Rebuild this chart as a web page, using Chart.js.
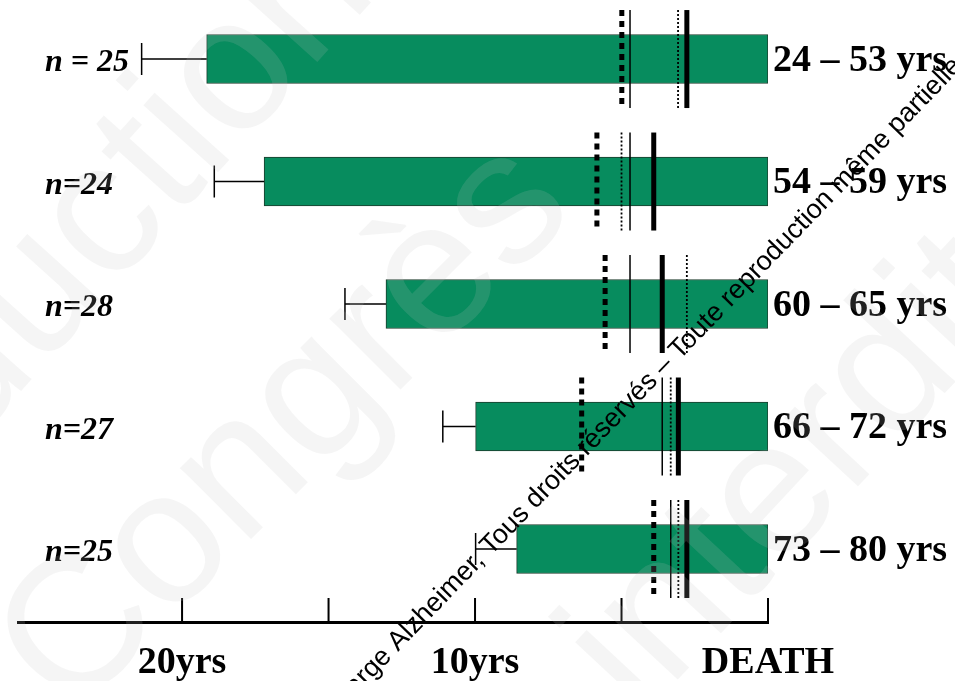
<!DOCTYPE html>
<html>
<head>
<meta charset="utf-8">
<script src="https://cdn.jsdelivr.net/npm/chart.js@4.4.0/dist/chart.umd.min.js"></script>
<style>
    html, body { margin: 0; padding: 0; background: #ffffff; }
    #zone { width: 955px; height: 681px; }
</style>
</head>
<body>
<div id="zone"><canvas id="grafico" width="955" height="681"></canvas></div>
<script>

// Données (années avant le décès)
const effectifs = ['n = 25', 'n=24', 'n=28', 'n=27', 'n=25'];
const tranchesAge = ['24 – 53 yrs', '54 – 59 yrs', '60 – 65 yrs', '66 – 72 yrs', '73 – 80 yrs'];
const debutBarre = [19.16, 17.2, 13.04, 9.98, 8.58];
const finMoustache = [21.38, 18.9, 14.44, 11.1, 9.98];

// lignes verticales de chaque rangée
const ligneTiretsEpaisse = [4.99, 5.84, 5.56, 6.36, 3.90];
const ligneFine = [4.71, 4.71, 4.71, 3.61, 3.32];
const lignePointillee = [3.07, 5.00, 2.77, 3.32, 3.06];
const ligneEpaisse = [2.77, 3.90, 3.61, 3.06, 2.77];

// axe
const graduations = [0, 5, 10, 15, 20];
const etiquettesAxe = { 0: 'DEATH', 10: '10yrs', 20: '20yrs' };

// le | marque le point d'ancrage du texte
const filigrane = 'Rencontres prise en charge |Alzheimer, Tous droits réservés – Toute reproduction même partielle interdite';

const serif = '"Liberation Serif", "Times New Roman", serif';
const sans = '"Liberation Sans", Arial, sans-serif';

// petit outil pour écrire un texte tourné à partir d'un point de la ligne de base
function texteTourne(ctx, texte, x, y, angle, police, couleur) {
    const morceaux = texte.split('|');
    ctx.save();
    ctx.font = police;
    ctx.fillStyle = couleur;
    ctx.textBaseline = 'alphabetic';
    ctx.textAlign = 'left';
    ctx.translate(x, y);
    ctx.rotate(angle * Math.PI / 180);
    const decalage = morceaux.length > 1 ? ctx.measureText(morceaux[0]).width : 0;
    ctx.fillText(morceaux.join(''), -decalage, 0);
    ctx.restore();
}

const pluginMarques = {
    id: 'marques',
    afterDatasetsDraw(chart) {
        const ctx = chart.ctx;
        const x = chart.scales.x;
        const y = chart.scales.y;

        debutBarre.forEach((debut, i) => {
            const yc = y.getPixelForValue(i);

            // moustache
            ctx.save();
            ctx.strokeStyle = '#000';
            ctx.lineWidth = 1.5;
            ctx.beginPath();
            ctx.moveTo(x.getPixelForValue(debut), yc);
            ctx.lineTo(x.getPixelForValue(finMoustache[i]), yc);
            ctx.moveTo(x.getPixelForValue(finMoustache[i]), yc - 16);
            ctx.lineTo(x.getPixelForValue(finMoustache[i]), yc + 16);
            ctx.stroke();
            ctx.restore();

            const traits = [
                { v: ligneTiretsEpaisse[i], w: 5, dash: [6, 5] },
                { v: ligneFine[i], w: 1.5, dash: [] },
                { v: lignePointillee[i], w: 1.8, dash: [2, 2] },
                { v: ligneEpaisse[i], w: 5, dash: [] }
            ];
            traits.forEach(t => {
                const xp = x.getPixelForValue(t.v);
                ctx.save();
                ctx.strokeStyle = '#000';
                ctx.lineWidth = t.w;
                ctx.setLineDash(t.dash);
                ctx.beginPath();
                ctx.moveTo(xp, yc - 49);
                ctx.lineTo(xp, yc + 49);
                ctx.stroke();
                ctx.restore();
            });
        });

        // graduations tournées vers le haut
        const yAxe = chart.chartArea.bottom;
        ctx.save();
        ctx.strokeStyle = '#000';
        ctx.lineWidth = 2;
        ctx.beginPath();
        graduations.forEach(g => {
            const xp = x.getPixelForValue(g);
            ctx.moveTo(xp, yAxe - 24);
            ctx.lineTo(xp, yAxe);
        });
        ctx.stroke();
        ctx.restore();
    },
    afterDraw(chart) {
        const ctx = chart.ctx;
        const y = chart.scales.y;
        const droite = chart.chartArea.right;

        ctx.save();
        ctx.fillStyle = '#000';
        ctx.textBaseline = 'middle';
        effectifs.forEach((e, i) => {
            const yc = y.getPixelForValue(i);
            ctx.font = 'italic bold 32px ' + serif;
            ctx.textAlign = 'left';
            ctx.fillText(e, 45, yc + 4);
            ctx.font = 'bold 38px ' + serif;
            ctx.fillText(tranchesAge[i], droite + 5, yc + 2);
        });
        ctx.restore();

        // filigrane clair
        const gris = 'rgba(190,190,190,0.16)';
        texteTourne(ctx, 'Reprod|uction', 40, 370, -48, '190px ' + sans, gris);
        texteTourne(ctx, 'Congrès', 70, 720, -45, '190px ' + sans, gris);
        texteTourne(ctx, 'interdite', 640, 720, -47, '190px ' + sans, gris);

        // filigrane noir
        texteTourne(ctx, filigrane, 398, 652, -46, '27px ' + sans, '#000');
    }
};

const donneesBarres = debutBarre.map((d, i) => ({ x: [d, 0], y: i }));

new Chart(document.getElementById('grafico'), {
    type: 'bar',
    data: {
        datasets: [{
            data: donneesBarres,
            backgroundColor: '#078c5e',
            borderColor: '#1d3b2c',
            borderWidth: 1,
            borderSkipped: false,
            barThickness: 49
        }]
    },
    options: {
        indexAxis: 'y',
        responsive: false,
        animation: false,
        devicePixelRatio: 1,
        layout: { padding: { left: 18, right: 187, top: 0, bottom: 0 } },
        plugins: { legend: { display: false }, tooltip: { enabled: false } },
        scales: {
            x: {
                type: 'linear',
                min: 0,
                max: 25.6,
                reverse: true,
                offset: false,
                afterBuildTicks: (axe) => { axe.ticks = graduations.map(v => ({ value: v })); },
                afterFit: (axe) => { axe.height = 59; },
                grid: { display: false, drawTicks: false, offset: false },
                border: { display: true, width: 3, color: '#000' },
                ticks: {
                    callback: (v) => etiquettesAxe[v] || '',
                    autoSkip: false,
                    maxRotation: 0,
                    padding: 22,
                    color: '#000',
                    font: { family: serif, size: 38, weight: 'bold', lineHeight: 1 }
                }
            },
            y: {
                type: 'linear',
                display: false,
                offset: false,
                grid: { offset: false },
                min: -0.482,
                max: 4.596,
                reverse: true
            }
        }
    },
    plugins: [pluginMarques]
});
</script>
</body>
</html>
